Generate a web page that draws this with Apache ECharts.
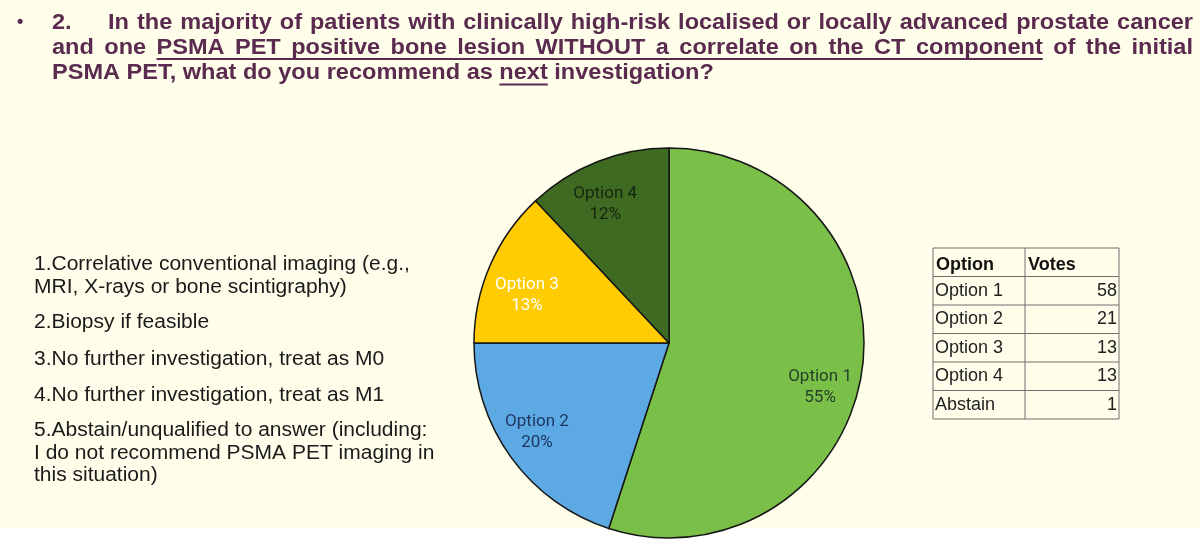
<!DOCTYPE html>
<html>
<head>
<meta charset="utf-8">
<script src="https://cdn.jsdelivr.net/npm/echarts@6/dist/echarts.min.js"></script>
<style>
  html, body { margin: 0; padding: 0; background: #ffffff; }
  #chart { width: 1200px; height: 543px; }
</style>
</head>
<body>
<div id="chart"></div>
<script>
// pie slices (percent shown on the chart)
var optionNames = ['Option 1', 'Option 2', 'Option 3', 'Option 4'];
var optionPct = [55, 20, 13, 12];
var sliceColors = ['#79BF48', '#5DA9E4', '#FFCC02', '#3E6B21'];
var labelColors = ['#26402a', '#1f3864', '#ffffff', '#17260f'];
// small nudges so the labels sit where the slide had them
var labelNudge = [[-4, 20], [-5, -3], [2, 15], [-6, 7]];

// votes table
var tableHeader = ['Option', 'Votes'];
var tableNames = ['Option 1', 'Option 2', 'Option 3', 'Option 4', 'Abstain'];
var tableVotes = [58, 21, 13, 13, 1];

// answer list on the left
var answerLines = [
    '1.Correlative conventional imaging (e.g.,',
    'MRI, X-rays or bone scintigraphy)',
    '2.Biopsy if feasible',
    '3.No further investigation, treat as M0',
    '4.No further investigation, treat as M1',
    '5.Abstain/unqualified to answer (including:',
    'I do not recommend PSMA PET imaging in',
    'this situation)'
];
var answerY = [264, 287, 322, 359, 395, 430, 453, 475];

// question title, three lines
var titleLine1 = 'In the majority of patients with clinically high-risk localised or locally advanced prostate cancer';
var titleLine2 = 'and one PSMA PET positive bone lesion WITHOUT a correlate on the CT component of the initial';
var titleLine3 = 'PSMA PET, what do you recommend as next investigation?';

var titleColor = '#5a2a4f';
var titleFont = 'bold 22px "Liberation Sans", Arial, sans-serif';
var titleStretch = 1.07;   // slide text is a bit wider than plain Arial
var listStretch = 1.05;

var measureCtx = document.createElement('canvas').getContext('2d');
function textWidth(s, font) {
    measureCtx.font = font;
    return measureCtx.measureText(s).width;
}

// spread words over [x0, x1] like justified text
function justify(line, x0, x1, font, sx) {
    var words = line.split(' ');
    var total = 0;
    var widths = [];
    for (var i = 0; i < words.length; i++) {
        widths.push(textWidth(words[i], font) * sx);
        total += widths[i];
    }
    var gap = (x1 - x0 - total) / (words.length - 1);
    var out = [];
    var x = x0;
    for (var j = 0; j < words.length; j++) {
        out.push({ word: words[j], x: x, w: widths[j] });
        x += widths[j] + gap;
    }
    return out;
}

function txt(s, x, y, font, fill, align, sx) {
    return {
        type: 'text', x: x, y: y, scaleX: sx || 1, silent: true, z: 10,
        style: { text: s, font: font, fill: fill, align: align || 'left', verticalAlign: 'middle' }
    };
}
function hline(x1, x2, y, color, w) {
    return {
        type: 'line', silent: true, z: 10,
        shape: { x1: x1, y1: y, x2: x2, y2: y },
        style: { stroke: color, lineWidth: w }
    };
}
function vline(x, y1, y2, color, w) {
    return {
        type: 'line', silent: true, z: 10,
        shape: { x1: x, y1: y1, x2: x, y2: y2 },
        style: { stroke: color, lineWidth: w }
    };
}

var graphics = [];
// background panel
graphics.push({ type: 'rect', z: -10, silent: true, shape: { x: 0, y: 0, width: 1200, height: 528 }, style: { fill: '#fffeea' } });

// title
graphics.push(txt('\u2022', 17, 22, 'bold 18px "Liberation Sans", Arial, sans-serif', titleColor));
graphics.push(txt('2.', 52, 23, titleFont, titleColor, 'left', titleStretch));
var l1 = justify(titleLine1, 108, 1193, titleFont, titleStretch);
l1.forEach(function (w) { graphics.push(txt(w.word, w.x, 23, titleFont, titleColor, 'left', titleStretch)); });
var l2 = justify(titleLine2, 52, 1193, titleFont, titleStretch);
l2.forEach(function (w) { graphics.push(txt(w.word, w.x, 48, titleFont, titleColor, 'left', titleStretch)); });
// underline PSMA ... component
var u0 = l2[2], u1 = l2[13];
graphics.push(hline(u0.x, u1.x + u1.w, 59, titleColor, 2));
graphics.push(txt(titleLine3, 52, 73, titleFont, titleColor, 'left', titleStretch));
var pre = 'PSMA PET, what do you recommend as ';
var nx = 52 + textWidth(pre, titleFont) * titleStretch;
graphics.push(hline(nx, nx + textWidth('next', titleFont) * titleStretch, 84.5, titleColor, 2));

// answer list
var listFont = '20px "Liberation Sans", Arial, sans-serif';
for (var i = 0; i < answerLines.length; i++) {
    graphics.push(txt(answerLines[i], 34, answerY[i], listFont, '#1a1a1a', 'left', listStretch));
}

// votes table
var tx0 = 933, tx1 = 1025, tx2 = 1119;
var rowTop = 248, rowH = 28.5;
var nRows = tableNames.length + 1;
var gridColor = '#6f6f6f';
for (var r = 0; r <= nRows; r++) {
    graphics.push(hline(tx0, tx2, rowTop + r * rowH, gridColor, 1));
}
graphics.push(vline(tx0, rowTop, rowTop + nRows * rowH, gridColor, 1));
graphics.push(vline(tx1, rowTop, rowTop + nRows * rowH, gridColor, 1));
graphics.push(vline(tx2, rowTop, rowTop + nRows * rowH, gridColor, 1));
var headFont = 'bold 18px "Liberation Sans", Arial, sans-serif';
var cellFont = '18px "Liberation Sans", Arial, sans-serif';
graphics.push(txt(tableHeader[0], 936, rowTop + rowH / 2 + 3, headFont, '#111'));
graphics.push(txt(tableHeader[1], 1028, rowTop + rowH / 2 + 3, headFont, '#111'));
for (var k = 0; k < tableNames.length; k++) {
    var cy = rowTop + (k + 1.5) * rowH;
    graphics.push(txt(tableNames[k], 935, cy, cellFont, '#222'));
    graphics.push(txt(String(tableVotes[k]), 1117, cy, cellFont, '#222', 'right'));
}

var pieData = optionNames.map(function (n, i) {
    return { name: n, value: optionPct[i], itemStyle: { color: sliceColors[i] } };
});
var labelData = optionNames.map(function (n, i) {
    return {
        name: n, value: optionPct[i],
        label: { color: labelColors[i] }
    };
});

var chart = echarts.init(document.getElementById('chart'));
chart.setOption({
    animation: false,
    backgroundColor: '#ffffff',
    graphic: { elements: graphics },
    series: [
        {
            type: 'pie',
            center: [669, 343],
            radius: [0, 195],
            startAngle: 90,
            clockwise: true,
            silent: true,
            label: { show: false },
            labelLine: { show: false },
            itemStyle: { borderColor: '#161616', borderWidth: 1.5 },
            emphasis: { disabled: true },
            data: pieData
        },
        {
            type: 'pie',
            center: [669, 343],
            radius: [113, 195],
            startAngle: 90,
            clockwise: true,
            silent: true,
            itemStyle: { color: 'transparent', borderWidth: 0 },
            label: {
                show: true,
                position: 'inside',
                fontFamily: 'Roboto, "Liberation Sans", sans-serif',
                fontSize: 17,
                lineHeight: 21,
                formatter: function (p) { return p.name + '\n' + p.value + '%'; }
            },
            labelLayout: function (p) {
                var n = labelNudge[p.dataIndex];
                return { dx: n[0], dy: n[1] };
            },
            labelLine: { show: false },
            emphasis: { disabled: true },
            data: labelData
        }
    ]
});
window.onresize = function () { chart.resize(); };
</script>
</body>
</html>
